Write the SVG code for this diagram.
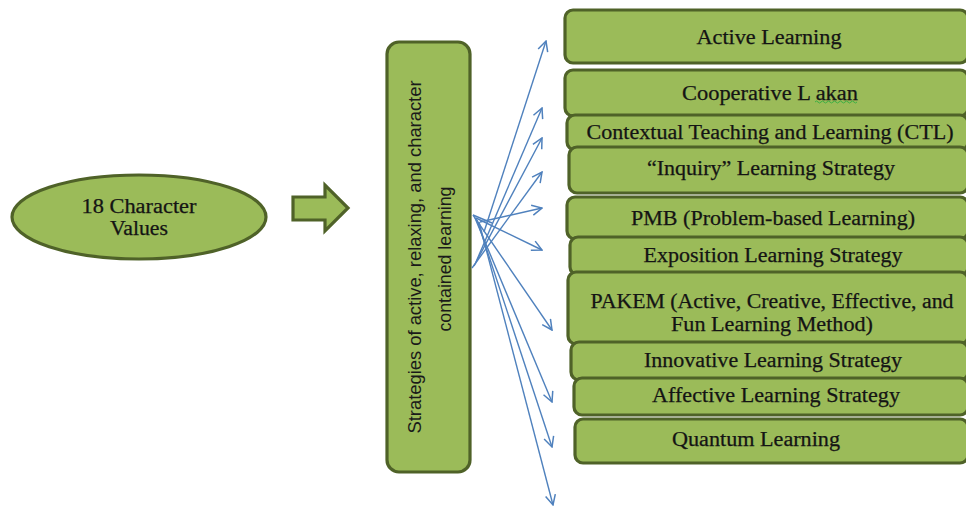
<svg xmlns="http://www.w3.org/2000/svg" width="966" height="507" viewBox="0 0 966 507">
<defs>
<style>
.box{fill:#9BBB59;stroke:#4F6228;stroke-width:3.2}
.t{font-family:"Liberation Serif","Times New Roman",serif;font-size:20px;fill:#141414;stroke:#141414;stroke-width:0.25;text-anchor:middle}
.v{font-family:"Liberation Sans",Arial,sans-serif;font-size:18px;fill:#1a1a1a;text-anchor:middle}
.c{stroke:#4F81BD;stroke-width:1.4;fill:none}
</style>
<marker id="ah" viewBox="0 0 12 12" refX="11" refY="6" markerWidth="12" markerHeight="12" markerUnits="userSpaceOnUse" orient="auto">
<path d="M1,1 L11,6 L1,11" fill="none" stroke="#4F81BD" stroke-width="1.5"/>
</marker>
</defs>
<rect width="966" height="507" fill="#ffffff"/>

<g id="values">
<ellipse cx="139" cy="217" rx="127" ry="42" class="box"/>
<text class="t" x="139" y="213" textLength="115" lengthAdjust="spacingAndGlyphs">18 Character</text>
<text class="t" x="139" y="235" textLength="58" lengthAdjust="spacingAndGlyphs">Values</text>
</g>

<g id="block-arrow">
<path d="M293,197 L325,197 L325,185 L348,208 L325,231 L325,220 L293,220 Z" class="box"/>
</g>

<g id="strategies">
<rect x="387" y="42" width="83" height="430" rx="12" class="box"/>
<g transform="translate(421,257) rotate(-90)">
<text class="v" x="0" y="0" textLength="353" lengthAdjust="spacingAndGlyphs">Strategies of active, relaxing, and character</text>
</g>
<g transform="translate(451,259) rotate(-90)">
<text class="v" x="0" y="0" textLength="145" lengthAdjust="spacingAndGlyphs">contained learning</text>
</g>
</g>

<g id="connectors">
<line class="c" x1="484" y1="232" x2="546" y2="41" marker-end="url(#ah)"/>
<line class="c" x1="476" y1="262" x2="542" y2="108" marker-end="url(#ah)"/>
<line class="c" x1="474" y1="266" x2="542" y2="138" marker-end="url(#ah)"/>
<line class="c" x1="472" y1="268" x2="542" y2="172" marker-end="url(#ah)"/>
<line class="c" x1="480" y1="222" x2="542" y2="208" marker-end="url(#ah)"/>
<line class="c" x1="476" y1="218" x2="542" y2="250" marker-end="url(#ah)"/>
<line class="c" x1="473" y1="215" x2="552" y2="330" marker-end="url(#ah)"/>
<line class="c" x1="475" y1="218" x2="552" y2="402" marker-end="url(#ah)"/>
<line class="c" x1="477" y1="220" x2="552" y2="447" marker-end="url(#ah)"/>
<line class="c" x1="479" y1="222" x2="553" y2="505" marker-end="url(#ah)"/>
<line class="c" x1="473" y1="215" x2="492" y2="223"/>
</g>

<g id="active">
<rect x="565" y="10" width="403" height="53" rx="8" class="box"/>
<text class="t" x="769" y="44" textLength="145" lengthAdjust="spacingAndGlyphs">Active Learning</text>
</g>
<g id="cooperative">
<rect x="565" y="70" width="403" height="46" rx="8" class="box"/>
<text class="t" x="770" y="100" textLength="176" lengthAdjust="spacingAndGlyphs">Cooperative L akan</text>
<path d="M815,102 q1.5,-2 3,0 t3,0 t3,0 t3,0 t3,0 t3,0 t3,0 t3,0 t3,0 t3,0 t3,0 t3,0 t3,0 t3,0" fill="none" stroke="#3cb043" stroke-width="1"/>
</g>
<g id="ctl">
<rect x="567" y="115" width="401" height="35" rx="8" class="box"/>
<text class="t" x="770" y="139" textLength="367" lengthAdjust="spacingAndGlyphs">Contextual Teaching and Learning (CTL)</text>
</g>
<g id="inquiry">
<rect x="569" y="147" width="399" height="46" rx="8" class="box"/>
<text class="t" x="771" y="175" textLength="248" lengthAdjust="spacingAndGlyphs">“Inquiry” Learning Strategy</text>
</g>
<g id="pmb">
<rect x="567" y="197" width="401" height="42" rx="8" class="box"/>
<text class="t" x="773" y="225" textLength="284" lengthAdjust="spacingAndGlyphs">PMB (Problem-based Learning)</text>
</g>
<g id="exposition">
<rect x="570" y="237" width="398" height="38" rx="8" class="box"/>
<text class="t" x="773" y="262" textLength="259" lengthAdjust="spacingAndGlyphs">Exposition Learning Strategy</text>
</g>
<g id="pakem">
<rect x="568" y="272" width="400" height="72" rx="8" class="box"/>
<text class="t" x="772" y="308" textLength="363" lengthAdjust="spacingAndGlyphs">PAKEM (Active, Creative, Effective, and</text>
<text class="t" x="772" y="331" textLength="202" lengthAdjust="spacingAndGlyphs">Fun Learning Method)</text>
</g>
<g id="innovative">
<rect x="571" y="342" width="397" height="38" rx="8" class="box"/>
<text class="t" x="773" y="367" textLength="258" lengthAdjust="spacingAndGlyphs">Innovative Learning Strategy</text>
</g>
<g id="affective">
<rect x="574" y="378" width="394" height="37" rx="8" class="box"/>
<text class="t" x="776" y="402" textLength="248" lengthAdjust="spacingAndGlyphs">Affective Learning Strategy</text>
</g>
<g id="quantum">
<rect x="575" y="419" width="393" height="44" rx="8" class="box"/>
<text class="t" x="756" y="446" textLength="168" lengthAdjust="spacingAndGlyphs">Quantum Learning</text>
</g>
</svg>
